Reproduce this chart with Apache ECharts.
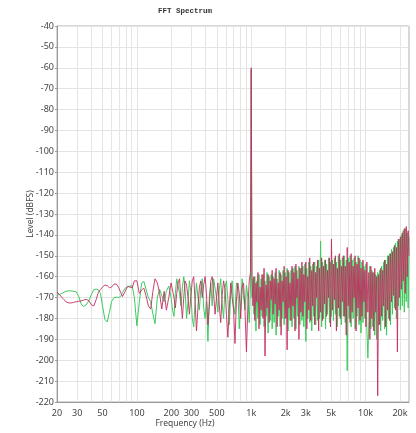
<!DOCTYPE html>
<html><head><meta charset="utf-8">
<script src="https://cdn.jsdelivr.net/npm/echarts@6/dist/echarts.min.js"></script>
<style>html,body{margin:0;padding:0;background:#fff}#c{width:416px;height:433px}</style>
</head><body><div id="c"></div>
<script>
// Frequencies (Hz)
const freqLow = [20,21,22,23,24,25,26.5,28,29.5,31, 32.5,34,36,38,40,42,44,46,48,50, 52.5,55,57.5,60,63,66,69,72,75,79, 83,87,91,95,100,105,110,115,120,126, 132,138,144,151,158,165,173,181,190,199];
const freqMid = [205,211,217,223,229,236,243,250,257,264, 272,280,288,296,305,314,323,332,342,352, 362,373,384,395,406,418,430,443,456,469, 483,497,511,526,541,557,573,590,607,625, 643,662,681,701,721,742,764,786,809,833, 857,882,908,934,961,985,1000,1015];
const freqHigh = [1035,1055,1075,1100,1120,1145,1170,1195,1220,1245,
 1270,1295,1320,1350,1375,1405,1435,1465,1495,1525,
 1555,1585,1620,1650,1685,1720,1755,1790,1825,1860,
 1900,1940,1980,2020,2060,2100,2140,2185,2230,2275,
 2320,2365,2415,2460,2510,2560,2615,2665,2720,2775,
 2830,2885,2945,3005,3065,3125,3190,3250,3315,3385,
 3450,3520,3590,3665,3735,3810,3890,3965,4045,4130,
 4210,4295,4380,4470,4560,4650,4745,4840,4935,5035,
 5135,5240,5345,5450,5560,5670,5785,5900,6020,6140,
 6265,6390,6515,6645,6780,6915,7055,7195,7340,7485,
 7635,7790,7945,8105,8265,8430,8600,8770,8945,9125,
 9310,9495,9685,9880,10075,10280,10485,10695,10910,11125,
 11350,11575,11810,12045,12285,12530,12780,13035,13300,13565,
 13835,14115,14395,14685,14975,15275,15585,15895,16210,16535,
 16870,17205,17550,17900,18260,18625,19000,19380,19765,20160,
 20565,20975,21395,21825,22260,22705,23160,23600,24000];

// Green channel level (dBFS)
const greenLow = [-169,-168.5,-168,-167.5,-167,-166.8,-166.8,-167,-167.3,-169.5,
 -173,-174.3,-173.5,-171.5,-168.5,-166.2,-166,-166.3,-168,-174,
 -180.5,-181.7,-177,-172,-170,-169.8,-170,-169.5,-167.5,-165.5,
 -164.7,-164.5,-164.3,-170,-183.5,-172,-163,-162.3,-166,-170,
 -172,-178,-182.5,-170,-166,-169,-172,-167,-164.5,-170];
const greenMid = [-176,-179,-168,-161,-160.5,-168,-174,-165,-160,-166,
 -180,-172,-162,-167,-180,-184,-172,-163,-170,-176,
 -166,-161,-175,-180,-172,-191,-170,-163,-174,-161,
 -160.5,-170,-177,-166,-161,-173,-180,-165,-162,-171,
 -183,-168,-162,-174,-178,-163,-166,-185,-172,-161,
 -169,-176,-164,-170,-182,-165,-61,-170];
const greenHigh = [-161,-178,-160,-186,-162,-180,-159,-183,-161,-179,
 -159,-184,-162,-179,-158,-187,-160,-181,-159,-185,
 -160,-182,-158,-188,-161,-179,-157,-184,-159,-180,
 -157,-183,-158,-180,-156,-186,-158,-181,-157,-184,
 -156,-180,-155,-185,-157,-179,-155,-183,-156,-181,
 -155,-184,-154,-191,-156,-180,-153,-182,-155,-186,
 -154,-179,-153,-183,-155,-181,-152,-180,-143,-184,
 -153,-180,-152,-185,-154,-178,-151,-182,-153,-179,
 -152,-181,-151,-178,-153,-184,-150,-179,-152,-183,
 -151,-179,-150,-182,-152,-205,-151,-180,-150,-184,
 -152,-180,-151,-185,-153,-179,-150,-183,-152,-187,
 -153,-182,-155,-180,-154,-186,-199,-181,-155,-185,
 -157,-184,-158,-188,-159,-190,-158,-183,-157,-186,
 -155,-181,-153,-185,-152,-188,-150,-180,-149,-183,
 -147,-178,-146,-175,-144,-180,-143,-174,-142,-176,
 -140,-174,-138,-177,-137,-172,-139,-175,-141];

// Red channel level (dBFS)
const redLow = [-167.5,-168.5,-169.8,-171,-172,-172.5,-172.6,-172.3,-172,-171.8,
 -171.6,-171.3,-170.8,-171.5,-173.5,-174,-171,-167.5,-166.2,-165,
 -164,-164.3,-165.3,-165,-163.6,-163.5,-165,-167.5,-169.5,-167,
 -164.7,-165,-165.3,-162,-162,-168,-166.4,-165.5,-169,-174,
 -175.5,-167,-161,-163,-168,-175.5,-167,-176,-170,-163];
const redMid = [-163,-170,-175,-168,-163,-161,-172,-180,-170,-162,
 -164,-170,-178,-170,-162,-160,-172,-186,-175,-165,
 -162,-170,-164,-160,-168,-183,-174,-162,-160,-168,
 -178,-170,-163,-174,-182,-169,-162,-166,-178,-189,
 -175,-163,-170,-176,-192,-172,-163,-168,-180,-165,
 -163,-176,-196,-175,-162,-158,-60,-160];
const redHigh = [-174,-160,-181,-163,-172,-158,-185,-165,-176,-159,
 -180,-156,-198,-164,-175,-159,-182,-162,-171,-157,
 -178,-161,-173,-156,-184,-163,-176,-158,-188,-162,
 -172,-155,-180,-160,-195,-157,-175,-163,-181,-155,
 -174,-158,-186,-154,-170,-161,-190,-156,-177,-153,
 -179,-159,-172,-153,-185,-160,-176,-151,-181,-157,
 -174,-153,-183,-158,-170,-152,-186,-156,-177,-151,
 -181,-155,-173,-152,-179,-157,-170,-151,-184,-142,
 -176,-154,-171,-150,-186,-156,-175,-149,-180,-155,
 -172,-150,-179,-155,-188,-146,-174,-153,-182,-149,
 -177,-155,-170,-150,-186,-154,-175,-151,-181,-156,
 -179,-152,-172,-157,-184,-153,-177,-158,-190,-155,
 -180,-158,-186,-156,-177,-160,-217,-159,-183,-156,
 -179,-157,-174,-152,-184,-154,-176,-150,-181,-149,
 -172,-148,-169,-145,-176,-146,-196,-142,-170,-141,
 -166,-139,-162,-137,-168,-136,-160,-138,-150];

// Axis ticks
const gridFreqs = [20,30,40,50,60,70,80,90,100,200,300,400,500,600,700,800,900,1000,2000,3000,4000,5000,6000,7000,8000,9000,10000,20000];
const labelFreqs = [20,30,50,100,200,300,500,1000,2000,3000,5000,10000,20000];

const freqHz = freqLow.concat(freqMid, freqHigh);
const greenDb = greenLow.concat(greenMid, greenHigh);
const redDb = redLow.concat(redMid, redHigh);
const toPairs = (ys) => freqHz.map((f, i) => [f, ys[i]]);

const FONT = 'Noto Sans';
const chart = echarts.init(document.getElementById('c'), null, {renderer: 'canvas'});
chart.setOption({
  animation: false,
  backgroundColor: '#fff',
  title: {
    text: 'FFT Spectrum', left: 180, top: 2, textAlign: 'center',
    textStyle: {fontFamily: 'Liberation Mono', fontSize: 7.5, fontWeight: 'bold', color: '#333'}
  },
  grid: {left: 57, right: 7, top: 26, bottom: 26, show: true, borderColor: '#b0b0b0', borderWidth: 1},
  xAxis: {
    type: 'log', logBase: 10, min: 20, max: 24000,
    name: 'Frequency (Hz)', nameLocation: 'middle', nameGap: 17, nameMoveOverlap: false,
    nameTextStyle: {fontFamily: FONT, fontSize: 8.5, color: '#444', padding: [0, 96, 0, 0]},
    axisLine: {show: true, lineStyle: {color: '#999'}},
    axisTick: {show: false, customValues: gridFreqs},
    axisLabel: {
      customValues: labelFreqs, fontFamily: FONT, fontSize: 9, color: '#444', margin: 7,
      formatter: (v) => v >= 1000 ? (v / 1000) + 'k' : String(v)
    },
    splitLine: {show: true, lineStyle: {color: '#e4e4e4', width: 1}},
    minorSplitLine: {show: false}
  },
  yAxis: {
    type: 'value', min: -220, max: -40, interval: 10,
    name: 'Level (dBFS)', nameLocation: 'middle', nameRotate: 90, nameGap: 22, nameMoveOverlap: false,
    nameTextStyle: {fontFamily: FONT, fontSize: 8.5, color: '#444'},
    axisLine: {show: true, lineStyle: {color: '#999'}},
    axisTick: {show: true, length: 2, lineStyle: {color: '#999'}},
    axisLabel: {fontFamily: FONT, fontSize: 9, color: '#444', margin: 3},
    splitLine: {show: true, lineStyle: {color: '#e4e4e4', width: 1}}
  },
  series: [
    {name: 'Left', type: 'line', data: toPairs(greenDb), showSymbol: false, symbol: 'none',
     lineStyle: {color: '#3ccb5c', width: 1}, itemStyle: {color: '#3ccb5c'}, z: 2},
    {name: 'Right', type: 'line', data: toPairs(redDb), showSymbol: false, symbol: 'none',
     lineStyle: {color: '#c42d63', width: 1, opacity: 0.9}, itemStyle: {color: '#c42d63'}, z: 3}
  ]
});
</script>
</body></html>
